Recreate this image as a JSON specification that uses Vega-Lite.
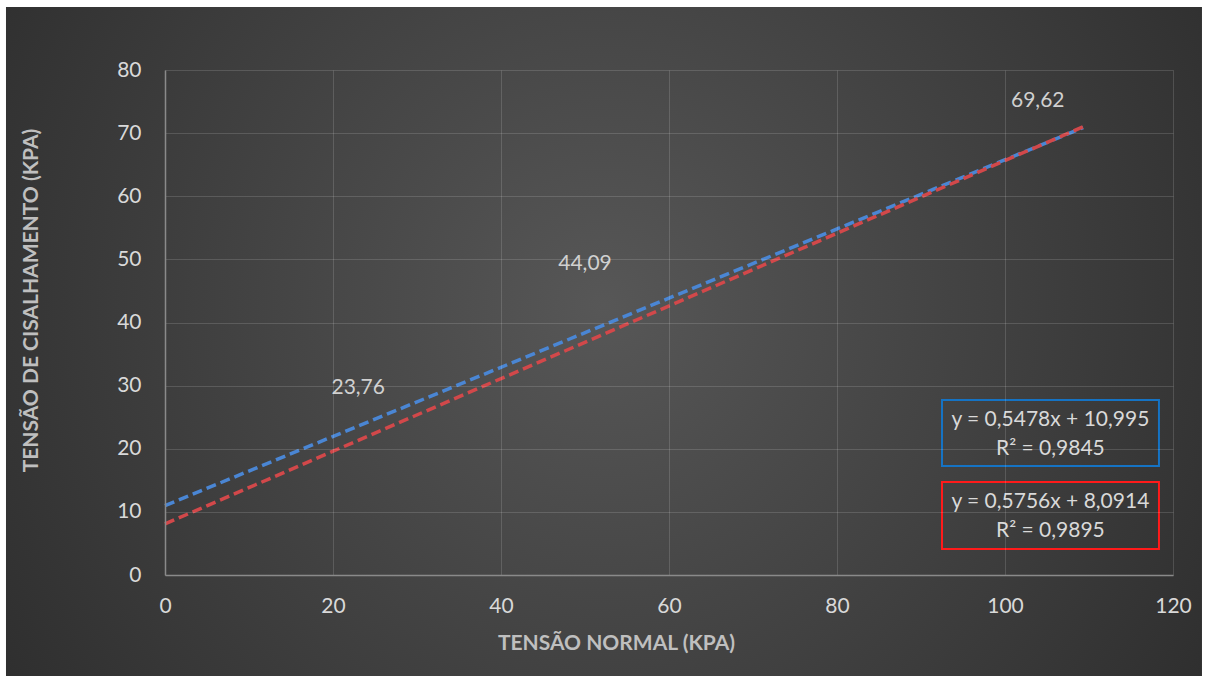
{
  "$schema": "https://vega.github.io/schema/vega-lite/v6.json",
  "width": 1008,
  "height": 505,
  "autosize": "none",
  "padding": {"left": 165, "top": 70, "right": 35, "bottom": 107},
  "background": "white",
  "config": {
    "view": {"stroke": null},
    "font": "Lato",
    "axis": {
      "grid": true,
      "gridColor": "#ffffff",
      "gridOpacity": 0.14,
      "gridWidth": 1,
      "domainColor": "#8a8a8a",
      "domainWidth": 1.5,
      "ticks": false,
      "labelFlush": false,
      "labelColor": "#d9d9d9",
      "labelFont": "Lato",
      "labelFontSize": 21,
      "titleColor": "#bfbfbf",
      "titleFont": "Lato",
      "titleFontSize": 21,
      "titleFontWeight": "bold"
    }
  },
  "datasets": {
    "trend": [
      {"serie": "azul", "normal": 0, "cisalhamento": 10.995},
      {"serie": "azul", "normal": 109.3, "cisalhamento": 70.87},
      {"serie": "vermelha", "normal": 0, "cisalhamento": 8.0914},
      {"serie": "vermelha", "normal": 109.3, "cisalhamento": 71.0}
    ],
    "rotulos": [
      {"normal": 23.0, "cisalhamento": 29.6, "rotulo": "23,76"},
      {"normal": 50.0, "cisalhamento": 49.3, "rotulo": "44,09"},
      {"normal": 103.9, "cisalhamento": 75.1, "rotulo": "69,62"}
    ],
    "unico": [{}]
  },
  "encoding": {
    "x": {
      "type": "quantitative",
      "scale": {"domain": [0, 120], "nice": false},
      "axis": {
        "zindex": 1,
        "values": [0, 20, 40, 60, 80, 100, 120],
        "title": "TENSÃO NORMAL (KPA)",
        "labelPadding": 20,
        "titlePadding": 16,
        "titleX": 451
      }
    },
    "y": {
      "type": "quantitative",
      "scale": {"domain": [0, 80], "nice": false},
      "axis": {
        "zindex": 1,
        "values": [0, 10, 20, 30, 40, 50, 60, 70, 80],
        "title": "TENSÃO DE CISALHAMENTO (KPA)",
        "labelPadding": 24,
        "titlePadding": 75,
        "titleY": 230
      }
    }
  },
  "layer": [
    {
      "description": "Chart area backdrop with a soft radial shading",
      "data": {"name": "unico"},
      "mark": {
        "type": "rect",
        "clip": false,
        "fill": {
          "gradient": "radial",
          "x1": 0.5, "y1": 0.47, "r1": 0,
          "x2": 0.5, "y2": 0.47, "r2": 0.72,
          "stops": [
            {"offset": 0, "color": "#575757"},
            {"offset": 1, "color": "#262626"}
          ]
        }
      },
      "encoding": {
        "x": {"datum": -18.93, "type": "quantitative"},
        "x2": {"datum": 123.45},
        "y": {"datum": 89.98, "type": "quantitative"},
        "y2": {"datum": -16.0}
      }
    },
    {
      "data": {"name": "trend"},
      "mark": {"type": "line", "strokeWidth": 3.5, "strokeDash": [10, 5], "clip": false},
      "encoding": {
        "x": {"field": "normal", "type": "quantitative"},
        "y": {"field": "cisalhamento", "type": "quantitative"},
        "detail": {"field": "serie"},
        "color": {
          "field": "serie",
          "type": "nominal",
          "scale": {"domain": ["azul", "vermelha"], "range": ["#4a86d4", "#d2484a"]},
          "legend": null
        }
      }
    },
    {
      "data": {"name": "rotulos"},
      "mark": {"type": "text", "fontSize": 21, "color": "#d0d0d0", "font": "Lato"},
      "encoding": {
        "x": {"field": "normal", "type": "quantitative"},
        "y": {"field": "cisalhamento", "type": "quantitative"},
        "text": {"field": "rotulo"}
      }
    },
    {
      "data": {"name": "unico"},
      "mark": {"type": "rect", "fill": null, "stroke": "#1573c4", "strokeWidth": 2, "clip": false},
      "encoding": {
        "x": {"datum": 92.5, "type": "quantitative"},
        "x2": {"datum": 118.33},
        "y": {"datum": 27.72, "type": "quantitative"},
        "y2": {"datum": 17.27}
      }
    },
    {
      "data": {"name": "unico"},
      "mark": {"type": "rect", "fill": null, "stroke": "#ff1a1a", "strokeWidth": 2, "clip": false},
      "encoding": {
        "x": {"datum": 92.5, "type": "quantitative"},
        "x2": {"datum": 118.33},
        "y": {"datum": 14.73, "type": "quantitative"},
        "y2": {"datum": 4.12}
      }
    },
    {
      "data": {"name": "unico"},
      "mark": {
        "type": "text",
        "fontSize": 21,
        "color": "#d9d9d9",
        "font": "Lato",
        "lineHeight": 29,
        "text": ["y = 0,5478x + 10,995", "R² = 0,9845"]
      },
      "encoding": {
        "x": {"datum": 105.4, "type": "quantitative"},
        "y": {"datum": 24.55, "type": "quantitative"}
      }
    },
    {
      "data": {"name": "unico"},
      "mark": {
        "type": "text",
        "fontSize": 21,
        "color": "#d9d9d9",
        "font": "Lato",
        "lineHeight": 29,
        "text": ["y = 0,5756x + 8,0914", "R² = 0,9895"]
      },
      "encoding": {
        "x": {"datum": 105.4, "type": "quantitative"},
        "y": {"datum": 11.56, "type": "quantitative"}
      }
    }
  ]
}
